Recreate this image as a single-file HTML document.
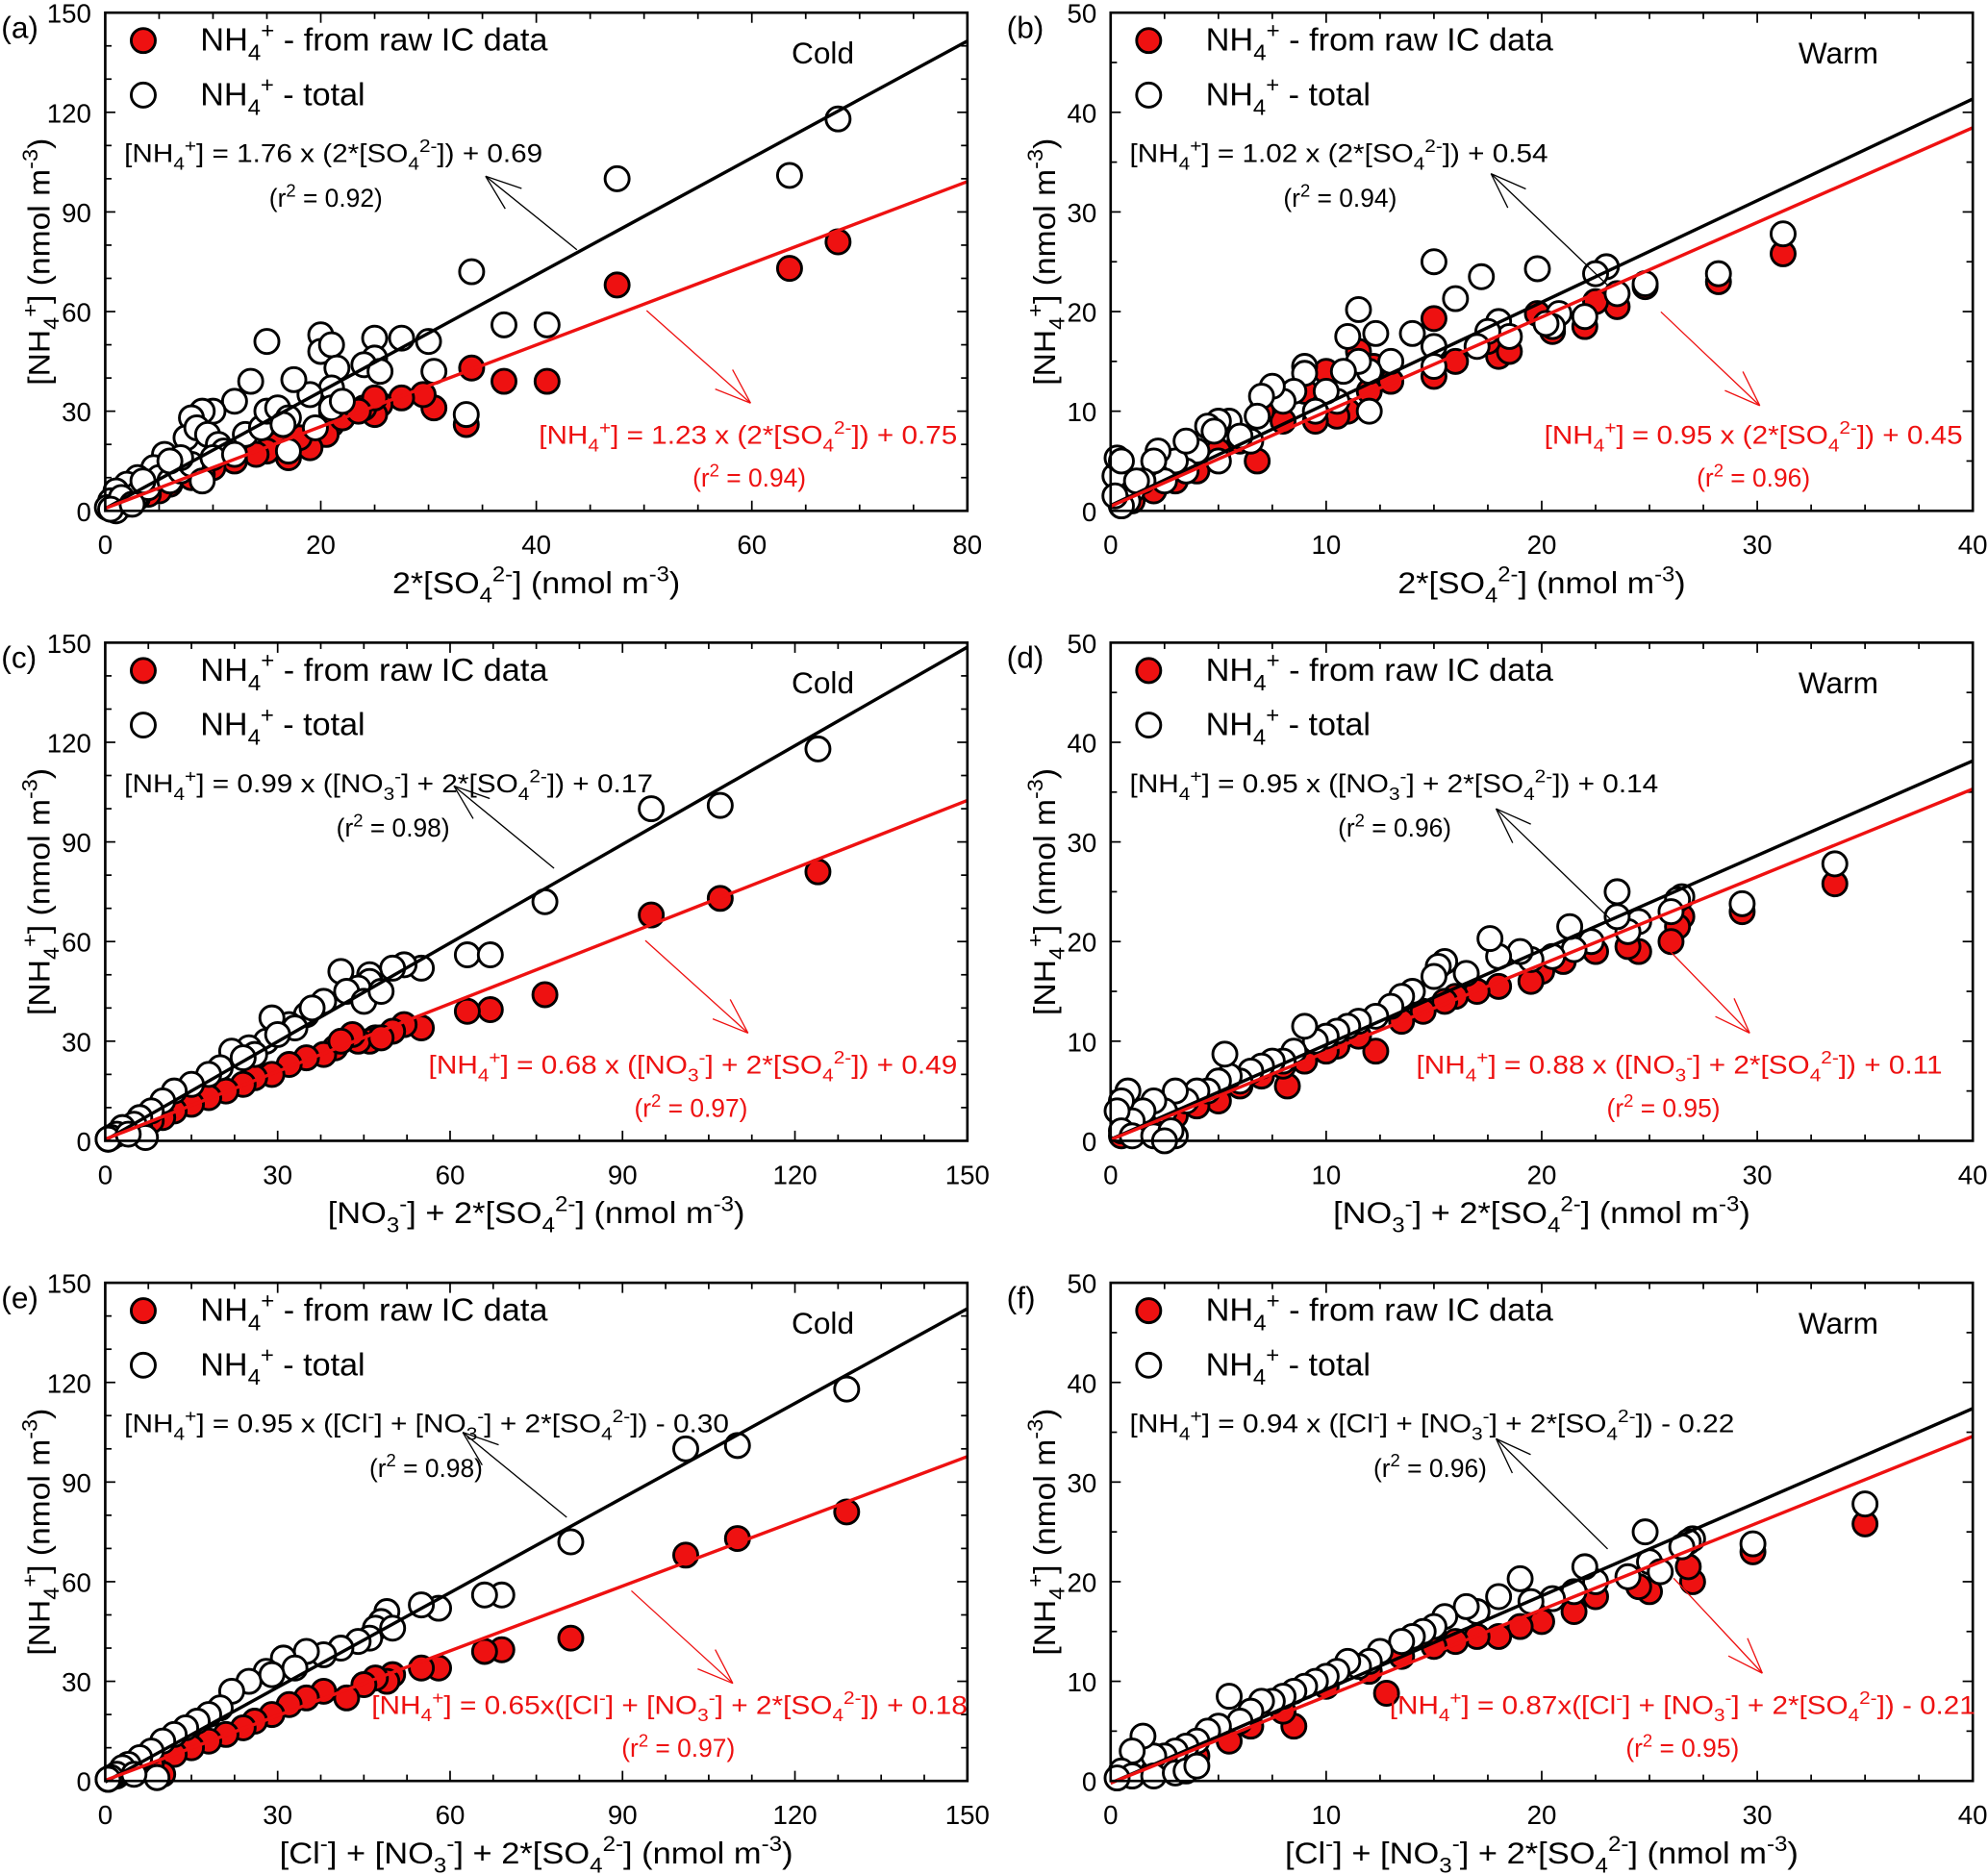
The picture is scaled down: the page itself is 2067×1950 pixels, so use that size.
<!DOCTYPE html>
<html><head><meta charset="utf-8"><style>
html,body{margin:0;padding:0;background:#fff;}
svg{display:block;}
text{font-family:"Liberation Sans Narrow","Liberation Sans",sans-serif;}
</style></head>
<body>
<svg id="fig" width="2067" height="1950" viewBox="0 0 1568 1479.2" preserveAspectRatio="none" xmlns="http://www.w3.org/2000/svg"></svg>
<script>
// ---- Panel (a) data ----
const aRedX=[68,63.5,47.5,34,37,41,33.5,30.5,29.5,27.5,25.5,25,24,25,21,20.5,21,19,17,16,15,14,12,10,9,8,6,5,4,3,2,1,0.5,22,23.5,18];
const aRedY=[81,73,68,43,39,39,26,31,35,34,32,29,31,34,26,23,30,19,16,20,18,17,15,13,11,10,8,6,5,4,2,1,0.5,28,30,22];
const aOpenX=[68,63.5,47.5,34,37,41,30,30.5,33.5,15,20,20,21,25,27.5,25,24,25.5,21.5,21,19,17.5,13.5,12,10,9,8,7.5,8.5,9.5,10.5,11,13,14.5,15,16,17,17,16.5,5.5,4.5,3,2,1,0.5,0.2,1,2,3,4,5,6,7,8,9,10,12,19.5,21,22,7,6,3.5,1.5,0.5,2.5];
const aOpenY=[118,101,100,72,56,56,51,42,29,51,53,48,50,52,52,46,44,42,43,37,35,39.5,39,33,30,30,28,22,25,23,20,18,23,25,30,31,28,18,26,17,13,10,8,6,3,1,0,3,5,7,10,9,12,14,9,16,17,25,31,33,16,15,9,4,0.5,2];
// ---- Panel (b) data ----
const bRedX=[31.2,28.2,24.8,23.5,22.5,22,20.5,19.8,18,18.5,17.5,16,15,15,13,12,11.5,11,10.5,10,9.5,9,8,6.8,6,5,4,3,2,1,0.5,12.2,7];
const bRedY=[25.8,23,22.5,20.5,21,18.5,18,19.8,15.5,16,17,15,19.3,13.5,13,12,16,10,9.5,14,9,12,9,5,7,6,4,3,2,1,0.5,14.5,10];
const bOpenX=[31.2,28.2,24.8,23.5,23,22.5,22,20.8,20.5,20.2,19.8,18,18.5,17.5,17,17.2,16,15,15,15,14,13,12.3,12,11.5,11,11.5,10.8,10.5,10,9.5,9,9,8.5,8,7.5,7,6.8,6.5,5.5,5,4.5,4.8,5,4,3.5,3,2.5,2.2,2,1.5,1,0.8,0.5,0.2,0.3,0.5,0.2,1.2,3.5,6,12];
const bOpenY=[27.8,23.8,22.8,21.8,24.5,23.8,19.5,19.8,18.5,18.8,24.3,19,17.5,18,16.5,23.5,21.3,25,16.5,14.5,17.8,15,17.8,14,20.2,17.5,15,14,11,12,10,14.5,13.8,12,11,12.5,11.5,9.5,7,9,9,8.5,8,5,6,4,5,3,6,5,3,2,1,0.5,3.5,5.3,5,1.5,3,7,7.5,10];
// ---- Panel (c) data ----
const cRedX=[124,107,95,76.5,67,63,55,52,50,47,46,44,43,40,38,35,32,29,26,24,21,18,15,12,10,8,6,4,2,1,0.5,41,48];
const cRedY=[81,73,68,44,39.5,39,34,35,33,31,30,30,32,28,26,25,23,20,19,17,15,13,11,9,7,6,4,3,2,1,0.5,30,31];
const cOpenX=[124,107,95,76.5,63,67,55,52,50,46,46,44,41,42,38,35,32,29,28,25,22,20,18,15,12,10,8,6,5,3,2,1,0.5,7,4,45,36,33,30,26,24,48];
const cOpenY=[118,101,100,72,56,56,52,53,52,50,48,46,51,45,42,38,35,37,30,28,27,22,20,17,15,12,9,7,5,4,2,1,0.5,1,2,42,40,34,32,26,25,45];
// ---- Panel (d) data ----
const dRedX=[33.6,29.3,26.5,26.3,26,24.5,24,22.5,21,20,19.5,18,17,16,15.5,14.5,13.5,12.3,11.5,10.5,10,8.2,9,8,7,6,5,4,3,2,1,0.5];
const dRedY=[25.8,23,22.5,21.5,20,19,19.5,19,18,17,16,15.5,15,14.5,14,13,12,9,10.5,9.5,9,5.5,8,7.5,6.5,5.5,4,3.5,2.5,1.5,1,0.5];
const dOpenX=[33.6,29.3,26.5,26.3,26,24.5,24,23.5,23.5,22.3,21.5,21.3,20.5,19.5,19,18,17.6,16.5,15.5,15.2,15,14,13.5,13,12.3,11.5,11,10.5,10,9.5,9,8.5,8,7.5,7,6.5,6,5.5,5.3,5,4.5,4,3.5,3,2.5,2,1.5,1,0.8,0.5,0.3,0.5,1,2,3,2.8,2.5];
const dOpenY=[27.8,23.8,24.5,24.2,23,22,21,25,22.5,20,19.2,21.5,18.5,18.2,19,18.5,20.3,16.8,18,17.5,16.5,15,14.5,13.5,12.5,12,11.5,11,10.5,10,11.5,9,8,8,7.5,7,6,6.5,8.7,6,5,5,4,5,3,4,3,2,5,4,3,1,0.5,0.5,0.5,1,0];
// ---- Panel (e) data ----
const eRedX=[129,110,101,81,69,66,58,55,50,49,47,45,42,38,35,32,29,26,24,21,18,15,12,10,8,6,4,2,1,0.5];
const eRedY=[81,73,68,43,39.5,39,34,34,32,30,31,29,25,27,25,23,20,18,16,14,12,10,8,2,5,4,3,1.5,1,0.5];
const eOpenX=[129,110,101,81,69,66,58,55,49,48,47,46,44,41,38,35,31,28,25,22,20,18,16,14,12,10,8,6,4,3,2,1,0.5,9,5,50,33,29];
const eOpenY=[118,101,100,72,56,56,52,53,51,48,46,43,42,40,38,39,37,33,30,27,22,20,18,16,14,12,9,7,5,4,2,1,0.5,1,2,46,34,32];
// ---- Panel (f) data ----
const fRedX=[35,29.8,27,26.8,25,24.5,22.5,21.5,20,19,18,17,16,15,13.5,12.8,12,10,8.5,8,6.5,5.5,4,3,2,1];
const fRedY=[25.8,23,20,21.5,19,19.5,18.5,17,16,15.5,14.5,14.5,14,13.5,12.5,8.8,11,9.5,5.5,7,5.5,4,2.5,2,1,0.5];
const fOpenX=[35,29.8,27,26.8,26.5,25,24.8,25.5,24,22.5,22,21.5,20.5,19.5,19,18,17,16.5,15.5,15,14.5,14,13.5,12.5,12,11.5,11,10.5,10,9.5,9,8.5,8,7.5,7,6.5,6,5.5,5,4.5,4,3.5,3,2.5,2,1.5,1,0.5,1,2,3,3.5,4,0.3];
const fOpenY=[27.8,23.8,24.3,24,23.5,22,25,21,20.5,20,21.5,19,18.3,18,20.3,18.5,17,17.5,16.5,15.5,15,14.5,14,13,12,11.5,12,11,10.5,10,9.5,9,8.5,8,8,7,6,8.5,5.5,5,4,3.5,3,2.5,2.5,4.5,3,1,0.5,0.5,0.8,1,1.5,0.3];
// regression coefficients [slope, intercept]
const fitBlack=[[1.76,0.69],[1.02,0.54],[0.99,0.17],[0.95,0.14],[0.95,-0.30],[0.94,-0.22]];
const fitRed=[[1.23,0.75],[0.95,0.45],[0.68,0.49],[0.88,0.11],[0.65,0.18],[0.87,-0.21]];
const xMaxes=[80,40,150,40,150,40];
const yMaxes=[150,50,150,50,150,50];
const xTickLabels=[[0,20,40,60,80],[0,10,20,30,40],[0,30,60,90,120,150],[0,10,20,30,40],[0,30,60,90,120,150],[0,10,20,30,40]];
const yTickLabels=[[0,30,60,90,120,150],[0,10,20,30,40,50],[0,30,60,90,120,150],[0,10,20,30,40,50],[0,30,60,90,120,150],[0,10,20,30,40,50]];

const NS="http://www.w3.org/2000/svg";
const svg=document.getElementById('fig');
function el(tag,attrs,parent){const e=document.createElementNS(NS,tag);for(const k in attrs)e.setAttribute(k,attrs[k]);(parent||svg).appendChild(e);return e;}
function rich(t,str,fs){
  const re=/_\{([^}]*)\}|\^\{([^}]*)\}|([^_^]+)/g;let m;let off=0;
  while((m=re.exec(str))){
    const ts=document.createElementNS(NS,'tspan');
    let target=0,txt,small=false;
    if(m[1]!==undefined){target=fs*0.3;txt=m[1];small=true;}
    else if(m[2]!==undefined){target=-fs*0.4;txt=m[2];small=true;}
    else txt=m[3];
    ts.setAttribute('dy',(target-off).toFixed(2));off=target;
    if(small)ts.setAttribute('font-size',(fs*0.7).toFixed(1));
    ts.textContent=txt;t.appendChild(ts);
  }
}
function addText(g,x,y,str,fs,opts){
  const t=el('text',{x:x,y:y,'font-size':fs},g);
  for(const k in (opts||{}))t.setAttribute(k,opts[k]);
  rich(t,str,fs);return t;
}
const panels=[
 {lab:'(a)',ox:0,oy:0,rx:aRedX,ry:aRedY,wx:aOpenX,wy:aOpenY,season:'Cold',xmin:[20,5],ymin:[30,10],xt:'2*[SO_{4}^{2-}] (nmol m^{-3})',xtw:227,
  be:'[NH_{4}^{+}] = 1.76 x (2*[SO_{4}^{2-}]) + 0.69',bw:330,br:'(r^{2} = 0.92)',brc:257,
  re:'[NH_{4}^{+}] = 1.23 x (2*[SO_{4}^{2-}]) + 0.75',rw:330,rend:755,rr:'(r^{2} = 0.94)',rrc:591,
  ba:[455,197,383,139],ra:[510,245,592,318]},
 {lab:'(b)',ox:793,oy:0,rx:bRedX,ry:bRedY,wx:bOpenX,wy:bOpenY,season:'Warm',xmin:[10,2.5],ymin:[10,5],xt:'2*[SO_{4}^{2-}] (nmol m^{-3})',xtw:227,
  be:'[NH_{4}^{+}] = 1.02 x (2*[SO_{4}^{2-}]) + 0.54',bw:330,br:'(r^{2} = 0.94)',brc:1057,
  re:'[NH_{4}^{+}] = 0.95 x (2*[SO_{4}^{2-}]) + 0.45',rw:330,rend:1548,rr:'(r^{2} = 0.96)',rrc:1383,
  ba:[1268,225,1176,137],ra:[1310,246,1388,320]},
 {lab:'(c)',ox:0,oy:497,rx:cRedX,ry:cRedY,wx:cOpenX,wy:cOpenY,season:'Cold',xmin:[30,7.5],ymin:[30,10],xt:'[NO_{3}^{-}] + 2*[SO_{4}^{2-}] (nmol m^{-3})',xtw:329,
  be:'[NH_{4}^{+}] = 0.99 x ([NO_{3}^{-}] + 2*[SO_{4}^{2-}]) + 0.17',bw:417,br:'(r^{2} = 0.98)',brc:310,
  re:'[NH_{4}^{+}] = 0.68 x ([NO_{3}^{-}] + 2*[SO_{4}^{2-}]) + 0.49',rw:417,rend:755,rr:'(r^{2} = 0.97)',rrc:545,
  ba:[437,685,358,620],ra:[509,742,590,815]},
 {lab:'(d)',ox:793,oy:497,rx:dRedX,ry:dRedY,wx:dOpenX,wy:dOpenY,season:'Warm',xmin:[10,2.5],ymin:[10,5],xt:'[NO_{3}^{-}] + 2*[SO_{4}^{2-}] (nmol m^{-3})',xtw:329,
  be:'[NH_{4}^{+}] = 0.95 x ([NO_{3}^{-}] + 2*[SO_{4}^{2-}]) + 0.14',bw:417,br:'(r^{2} = 0.96)',brc:1100,
  re:'[NH_{4}^{+}] = 0.88 x ([NO_{3}^{-}] + 2*[SO_{4}^{2-}]) + 0.11',rw:415,rend:1532,rr:'(r^{2} = 0.95)',rrc:1312,
  ba:[1270,725,1180,638],ra:[1310,743,1380,815]},
 {lab:'(e)',ox:0,oy:1002,rx:eRedX,ry:eRedY,wx:eOpenX,wy:eOpenY,season:'Cold',xmin:[30,7.5],ymin:[30,10],xt:'[Cl^{-}] + [NO_{3}^{-}] + 2*[SO_{4}^{2-}] (nmol m^{-3})',xtw:405,
  be:'[NH_{4}^{+}] = 0.95 x ([Cl^{-}] + [NO_{3}^{-}] + 2*[SO_{4}^{2-}]) - 0.30',bw:477,br:'(r^{2} = 0.98)',brc:336,
  re:'[NH_{4}^{+}] = 0.65x([Cl^{-}] + [NO_{3}^{-}] + 2*[SO_{4}^{2-}]) + 0.18',rw:470,rend:763,rr:'(r^{2} = 0.97)',rrc:535,
  ba:[447,1197,365,1130],ra:[498,1255,578,1328]},
 {lab:'(f)',ox:793,oy:1002,rx:fRedX,ry:fRedY,wx:fOpenX,wy:fOpenY,season:'Warm',xmin:[10,2.5],ymin:[10,5],xt:'[Cl^{-}] + [NO_{3}^{-}] + 2*[SO_{4}^{2-}] (nmol m^{-3})',xtw:405,
  be:'[NH_{4}^{+}] = 0.94 x ([Cl^{-}] + [NO_{3}^{-}] + 2*[SO_{4}^{2-}]) - 0.22',bw:477,br:'(r^{2} = 0.96)',brc:1128,
  re:'[NH_{4}^{+}] = 0.87x([Cl^{-}] + [NO_{3}^{-}] + 2*[SO_{4}^{2-}]) - 0.21',rw:462,rend:1558,rr:'(r^{2} = 0.95)',rrc:1327,
  ba:[1268,1222,1180,1135],ra:[1320,1245,1390,1320]}
];
function arrow(g,a,color,name){
  const [x1,y1,x2,y2]=a;
  const l=el('line',{x1:x1,y1:y1,x2:x2,y2:y2,stroke:color,'stroke-width':1},g);
  
  
  const ang=Math.atan2(y1-y2,x1-x2);
  [0.35,-0.35].forEach(d=>{
    const h=el('line',{x1:x2,y1:y2,x2:x2+30*Math.cos(ang+d),y2:y2+30*Math.sin(ang+d),stroke:color,'stroke-width':1},g);
    
    
  });
}
panels.forEach((p,i)=>{
  const L=83+p.ox,R=763+p.ox,T=10+p.oy,B=403+p.oy;
  const xm=xMaxes[i],ym=yMaxes[i];
  const X=v=>L+(R-L)*v/xm, Y=v=>B-(B-T)*v/ym;
  const g=el('g',{});
  
  
  const tg=el('g',{stroke:'#000','stroke-width':1.3},g);
  
  
  for(let v=0;v<=xm+1e-9;v+=p.xmin[1]){
    const maj=Math.abs(v/p.xmin[0]-Math.round(v/p.xmin[0]))<1e-6;const len=maj?8:5;
    el('line',{x1:X(v),y1:B,x2:X(v),y2:B-len},tg);el('line',{x1:X(v),y1:T,x2:X(v),y2:T+len},tg);
  }
  for(let v=0;v<=ym+1e-9;v+=p.ymin[1]){
    const maj=Math.abs(v/p.ymin[0]-Math.round(v/p.ymin[0]))<1e-6;const len=maj?8:5;
    el('line',{x1:L,y1:Y(v),x2:L+len,y2:Y(v)},tg);el('line',{x1:R,y1:Y(v),x2:R-len,y2:Y(v)},tg);
  }
  xTickLabels[i].forEach(v=>{const t=addText(g,X(v),437+p.oy,String(v),21,{'text-anchor':'middle'});
    
    });
  yTickLabels[i].forEach(v=>{const t=addText(g,L-11,Y(v)+8,String(v),21,{'text-anchor':'end'});
    
    });
  const pl=addText(g,p.ox+1,30+p.oy,p.lab,24,{});
  
  
  p.rx.forEach((v,k)=>{const c=el('circle',{cx:X(v),cy:Y(p.ry[k]),r:9.5,fill:'#ee1111',stroke:'#000','stroke-width':2.2},g);
    
    });
  p.wx.forEach((v,k)=>{const c=el('circle',{cx:X(v),cy:Y(p.wy[k]),r:9.5,fill:'#fff',stroke:'#000','stroke-width':2.2},g);
    
    });
  const fb=fitBlack[i],fr=fitRed[i];
  const lb=el('line',{x1:X(0),y1:Y(fb[1]),x2:X(xm),y2:Y(fb[0]*xm+fb[1]),stroke:'#000','stroke-width':2.6},g);
  
  
  const lr=el('line',{x1:X(0),y1:Y(fr[1]),x2:X(xm),y2:Y(fr[0]*xm+fr[1]),stroke:'#ee1111','stroke-width':2.6},g);
  
  
  const fr2=el('rect',{x:L,y:T,width:R-L,height:B-T,fill:'none',stroke:'#000','stroke-width':2},g);
  
  
  const lc1=el('circle',{cx:p.ox+113,cy:p.oy+32,r:9.5,fill:'#ee1111',stroke:'#000','stroke-width':2.2},g);
  
  
  const lt1=addText(g,p.ox+158,p.oy+40,'NH_{4}^{+} - from raw IC data',25,{textLength:274,lengthAdjust:'spacingAndGlyphs'});
  
  
  const lc2=el('circle',{cx:p.ox+113,cy:p.oy+75,r:9.5,fill:'#fff',stroke:'#000','stroke-width':2.2},g);
  
  
  const lt2=addText(g,p.ox+158,p.oy+83,'NH_{4}^{+} - total',25,{textLength:130,lengthAdjust:'spacingAndGlyphs'});
  
  
  const st=addText(g,p.ox+(p.season==='Cold'?649:657),p.oy+50,p.season,24,{'text-anchor':'middle'});
  
  
  const e1=addText(g,p.ox+98,p.oy+128,p.be,20,{textLength:p.bw,lengthAdjust:'spacingAndGlyphs'});
  
  
  const r1=addText(g,p.brc,p.oy+163,p.br,20,{'text-anchor':'middle'});
  
  
  const e2=addText(g,p.rend-p.rw,p.oy+350,p.re,20,{fill:'#ee1111',textLength:p.rw,lengthAdjust:'spacingAndGlyphs'});
  
  
  const r2=addText(g,p.rrc,p.oy+384,p.rr,20,{'text-anchor':'middle',fill:'#ee1111'});
  
  
  arrow(g,p.ba,'#000','arrow-total');
  arrow(g,p.ra,'#ee1111','arrow-raw-ic');
  const xt=addText(g,(L+R)/2-p.xtw/2,p.oy+468,p.xt,24,{textLength:p.xtw,lengthAdjust:'spacingAndGlyphs'});
  
  
  const cy=p.oy+207,cx=p.ox+34;
  const yt=addText(g,cx-97,cy+5,'[NH_{4}^{+}] (nmol m^{-3})',24,{textLength:195,lengthAdjust:'spacingAndGlyphs',transform:'rotate(-90 '+cx+' '+cy+')','font-family':'Liberation Sans, sans-serif'});
  
  
});
</script>
</body></html>
